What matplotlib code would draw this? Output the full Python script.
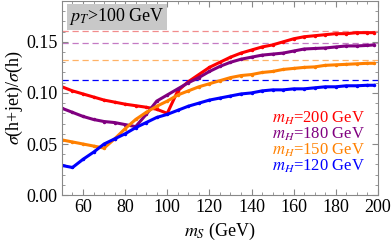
import numpy as np
import matplotlib
matplotlib.use('Agg')
import matplotlib.pyplot as plt
from matplotlib.ticker import MultipleLocator

plt.rcParams['font.family'] = ['Liberation Serif', 'DejaVu Serif']
plt.rcParams['mathtext.fontset'] = 'stix'

# данні
ms = [50, 55, 60, 65, 70, 75, 80, 85, 90, 95, 100, 105, 110, 115, 120, 125,
      130, 135, 140, 145, 150, 155, 160, 165, 170, 175, 180, 185, 190, 195, 198]

sig_200 = [0.106, 0.102, 0.099, 0.096, 0.093, 0.091, 0.089, 0.0875, 0.086, 0.084,
           0.080, 0.102, 0.111, 0.118, 0.125, 0.130, 0.135, 0.139, 0.142, 0.145,
           0.147, 0.150, 0.153, 0.155, 0.156, 0.157, 0.158, 0.158, 0.159, 0.159, 0.159]
sig_180 = [0.085, 0.081, 0.077, 0.074, 0.072, 0.071, 0.069, 0.067, 0.079, 0.092,
           0.098, 0.104, 0.110, 0.115, 0.121, 0.126, 0.130, 0.133, 0.135, 0.137,
           0.138, 0.139, 0.141, 0.143, 0.1435, 0.144, 0.145, 0.146, 0.146, 0.1465, 0.147]
sig_150 = [0.054, 0.052, 0.050, 0.048, 0.046, 0.055, 0.065, 0.074, 0.081, 0.087,
           0.092, 0.098, 0.102, 0.106, 0.109, 0.112, 0.115, 0.117, 0.118, 0.120,
           0.121, 0.123, 0.124, 0.125, 0.1255, 0.127, 0.1275, 0.128, 0.1285, 0.129, 0.129]
sig_120 = [0.029, 0.027, 0.035, 0.042, 0.050, 0.055, 0.060, 0.066, 0.071, 0.076,
           0.079, 0.083, 0.087, 0.090, 0.093, 0.095, 0.097, 0.099, 0.100, 0.102,
           0.103, 0.103, 0.104, 0.104, 0.105, 0.106, 0.106, 0.107, 0.107, 0.1075, 0.1075]

# асимптотичні значення (пунктир)
limits = [0.1603, 0.1486, 0.132, 0.1124]
labels = ['$m_H$=200 GeV', '$m_H$=180 GeV', '$m_H$=150 GeV', '$m_H$=120 GeV']

colors = ['#ff0000', '#800080', '#ff8000', '#0000ff']
dash_colors = ['#f28c8c', '#c47ac4', '#ffb266', '#0000ff']
series = [sig_200, sig_180, sig_150, sig_120]

fig = plt.figure(figsize=(3.92, 2.46), dpi=100)
ax = fig.add_axes([0.158, 0.207, 0.806, 0.789])

for lim, dc in zip(limits, dash_colors):
    ax.axhline(lim, color=dc, linestyle=(0, (5, 3)), linewidth=0.9, zorder=1)

for s, c in zip(series, colors):
    ax.plot(ms, s, color=c, linewidth=2.2, marker='o', markersize=1.5, zorder=2)

ax.set_xlim(50, 200)
ax.set_ylim(0, 0.19)
ax.xaxis.set_major_locator(MultipleLocator(20))
ax.xaxis.set_minor_locator(MultipleLocator(5))
ax.yaxis.set_major_locator(MultipleLocator(0.05))
ax.yaxis.set_minor_locator(MultipleLocator(0.01))
ax.yaxis.set_major_formatter(matplotlib.ticker.FormatStrFormatter('%.2f'))
ax.tick_params(which='both', direction='in', top=True, right=True,
               color='#888888', labelsize=13)
ax.tick_params(which='major', length=4, pad=3)
ax.tick_params(which='minor', length=2)
for sp in ax.spines.values():
    sp.set_color('#888888')

ax.set_xlabel('$m_S$ (GeV)', fontsize=13, labelpad=3)
ax.set_ylabel(r'$\sigma$(h+jet)/$\sigma$(h)', fontsize=13, labelpad=1)

ax.text(0.022, 0.918, '$p_T$>100 GeV', transform=ax.transAxes, fontsize=13,
        va='center', ha='left',
        bbox=dict(facecolor='#c8c8c8', edgecolor='none', pad=1.5))

# підписи кривих
for i, (lab, c) in enumerate(zip(labels, colors)):
    ax.text(0.959, 0.395 - i * 0.082, lab, color=c, transform=ax.transAxes,
            fontsize=12, ha='right', va='center')

plt.savefig('out.png', dpi=100)
